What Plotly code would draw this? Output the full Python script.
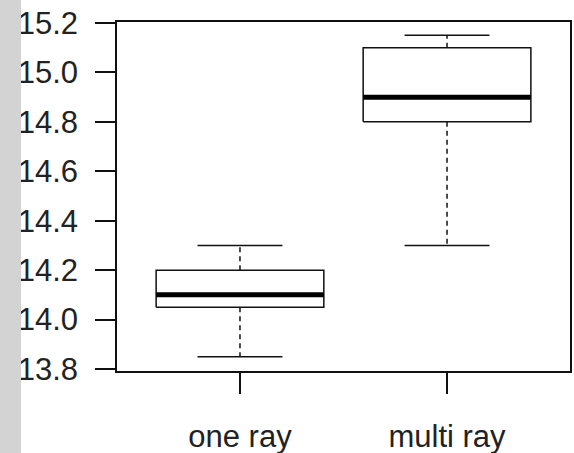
import plotly.graph_objects as go

categories = ["one ray", "multi ray"]
lower_whisker = [13.85, 14.30]
q1 = [14.05, 14.80]
median = [14.10, 14.90]
q3 = [14.20, 15.10]
upper_whisker = [14.30, 15.15]
y_ticks = [13.8, 14.0, 14.2, 14.4, 14.6, 14.8, 15.0, 15.2]
y_tick_labels = ["13.8", "14.0", "14.2", "14.4", "14.6", "14.8", "15.0", "15.2"]

BOX_HALF = 0.405
CAP_HALF = 0.205
LINE = "#111111"

fig = go.Figure()
for i, cat in enumerate(categories):
    x = i
    # box rectangle
    fig.add_trace(go.Scatter(
        x=[x - BOX_HALF, x + BOX_HALF, x + BOX_HALF, x - BOX_HALF, x - BOX_HALF],
        y=[q1[i], q1[i], q3[i], q3[i], q1[i]],
        mode="lines", line=dict(color=LINE, width=1.5), hoverinfo="skip", showlegend=False))
    # median
    fig.add_trace(go.Scatter(
        x=[x - BOX_HALF, x + BOX_HALF], y=[median[i], median[i]],
        mode="lines", line=dict(color="#000000", width=5), hoverinfo="skip", showlegend=False))
    # whiskers (dashed)
    fig.add_trace(go.Scatter(
        x=[x, x, None, x, x], y=[q3[i], upper_whisker[i], None, q1[i], lower_whisker[i]],
        mode="lines", line=dict(color=LINE, width=1.5, dash="5px,4px"), hoverinfo="skip", showlegend=False))
    # caps
    fig.add_trace(go.Scatter(
        x=[x - CAP_HALF, x + CAP_HALF, None, x - CAP_HALF, x + CAP_HALF],
        y=[upper_whisker[i], upper_whisker[i], None, lower_whisker[i], lower_whisker[i]],
        mode="lines", line=dict(color=LINE, width=1.5), hoverinfo="skip", showlegend=False))

fig.update_layout(
    width=574, height=453,
    margin=dict(l=117, r=4, t=22, b=82, autoexpand=False),
    paper_bgcolor="white", plot_bgcolor="white",
    font=dict(family="Liberation Sans, Arial, sans-serif", size=31, color="#222222"),
    xaxis=dict(
        range=[-0.594, 1.594], tickmode="array", tickvals=list(range(len(categories))),
        ticktext=categories, ticks="outside", ticklen=21, tickwidth=1.5, tickcolor=LINE,
        showline=True, linecolor=LINE, linewidth=1.5, mirror=True,
        showgrid=False, zeroline=False, ticklabelstandoff=16, automargin=False,
        ticklabeloverflow="allow",
    ),
    yaxis=dict(
        range=[13.792, 15.204], tickmode="array", tickvals=y_ticks, ticktext=y_tick_labels,
        ticks="outside", ticklen=20, tickwidth=1.5, tickcolor=LINE,
        showline=True, linecolor=LINE, linewidth=1.5, mirror=True,
        showgrid=False, zeroline=False, ticklabelstandoff=11, automargin=False,
        ticklabeloverflow="allow",
    ),
    shapes=[dict(type="rect", xref="paper", yref="paper",
                 x0=-117 / 453, x1=(21 - 117) / 453, y0=-1, y1=2,
                 fillcolor="#d3d3d3", line=dict(width=0), layer="above")],
)

fig.write_html(
    "out.html",
    config={"displayModeBar": False},
    post_script="document.body.style.margin='0';document.body.style.padding='0';",
)
